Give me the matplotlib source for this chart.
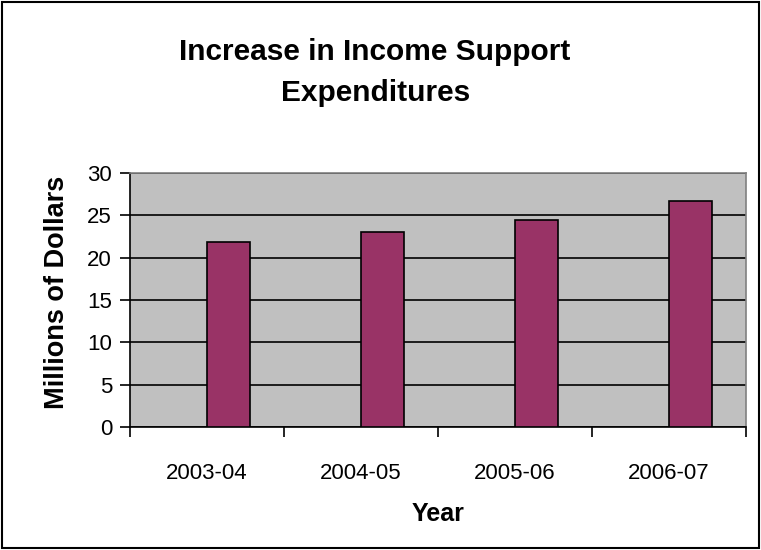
import matplotlib.pyplot as plt
from matplotlib.patches import Rectangle

years = ['2003-04', '2004-05', '2005-06', '2006-07']
spending = [21.8, 23.0, 24.4, 26.7]

plt.rcParams['font.family'] = ['Liberation Sans', 'DejaVu Sans']

fig = plt.figure(figsize=(7.61, 5.5), dpi=100)
ax = fig.add_axes([0.171, 0.2236, 0.809, 0.4619])

# outer chart border
fig.patches.append(Rectangle((0.003, 0.003), 0.994, 0.994, transform=fig.transFigure,
                             fill=False, edgecolor='black', linewidth=1.5))

ax.set_facecolor('#C0C0C0')
x = list(range(len(years)))
ax.bar(x, spending, width=0.28, align='edge', color='#993366',
       edgecolor='black', linewidth=1.2, zorder=3)

ax.set_xlim(-0.5, len(years) - 0.5)
ax.set_ylim(0, 30)
ax.set_yticks(range(0, 31, 5))
ax.yaxis.grid(True, color='black', linewidth=1.2, zorder=1)
ax.set_axisbelow(True)

ax.set_xticks([i - 0.5 for i in range(len(years) + 1)])
ax.set_xticklabels([])
ax.set_xticks(x, minor=True)
ax.set_xticklabels(years, minor=True, fontsize=16)
ax.tick_params(axis='x', which='minor', length=0, pad=26)
ax.tick_params(axis='x', which='major', length=7, width=1.2, direction='out')
ax.tick_params(axis='y', length=7, width=1.2, direction='out', labelsize=16, pad=6)

for side in ['top', 'right']:
    ax.spines[side].set_color('#808080')
    ax.spines[side].set_linewidth(1.2)
for side in ['left', 'bottom']:
    ax.spines[side].set_color('black')
    ax.spines[side].set_linewidth(1.2)

ax.set_xlabel('Year', fontsize=18, fontweight='bold', labelpad=13)
ax.set_ylabel('Millions of Dollars', fontsize=19.5, fontweight='bold')
ax.yaxis.set_label_coords(-0.097, 0.53)

fig.text(0.493, 0.868, 'Increase in Income Support\nExpenditures', ha='center', va='center',
         fontsize=21.5, fontweight='bold', linespacing=1.6)

fig.savefig('out.png', dpi=100)
